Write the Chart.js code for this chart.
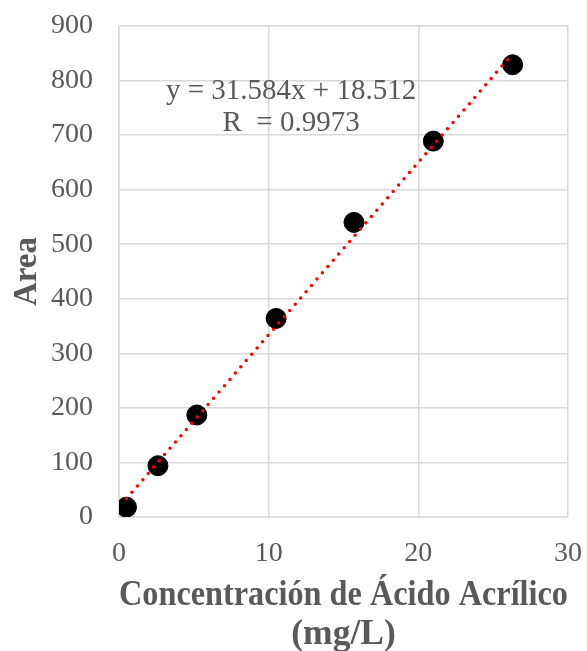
<!DOCTYPE html>
<html>
<head>
<meta charset="utf-8">
<script src="https://cdn.jsdelivr.net/npm/chart.js@4"></script>
<style>
  html, body { margin: 0; padding: 0; background: #fff; }
  canvas { display: block; }
</style>
</head>
<body>
<canvas id="curveChart" width="587" height="651"></canvas>
<script>
// concentration (mg/L) and peak area
const concentrations = [0.5, 2.6, 5.2, 10.5, 15.7, 21.0, 26.3];
const areas = [18, 94, 187, 364, 540, 689, 829];

// ends of the red dotted trendline as they appear
const trendX = [0.5, 26.3];
const trendY = [34, 849];

const equationLines = ['y = 31.584x + 18.512', 'R  = 0.9973'];
const xTitle = ['Concentración de Ácido Acrílico', '(mg/L)'];
const yTitle = 'Area';

const grey = '#595959';
const gridGrey = '#d9d9d9';
const serif = '"Liberation Serif", "Times New Roman", serif';

const equationLabel = {
    id: 'equationLabel',
    afterDatasetsDraw(chart) {
        const ctx = chart.ctx;
        const x = chart.scales.x.getPixelForValue(11.5);
        const y = chart.scales.y.getPixelForValue(780);
        ctx.save();
        ctx.font = '29px ' + serif;
        ctx.fillStyle = grey;
        ctx.textAlign = 'center';
        ctx.textBaseline = 'middle';
        ctx.fillText(equationLines[0], x, y);
        ctx.fillText(equationLines[1], x, y + 32);
        ctx.restore();
    }
};

function renderChart() {
    const ctx = document.getElementById('curveChart').getContext('2d');
    window.curveChart = new Chart(ctx, {
        type: 'scatter',
        data: {
            datasets: [{
                label: 'Tendencia',
                type: 'line',
                data: trendX.map((x, i) => ({ x: x, y: trendY[i] })),
                borderColor: '#ff0000',
                borderWidth: 3.5,
                borderDash: [0, 8.3],
                borderCapStyle: 'round',
                pointRadius: 0,
                fill: false,
                order: 0
            }, {
                label: 'Area',
                data: concentrations.map((x, i) => ({ x: x, y: areas[i] })),
                backgroundColor: '#000000',
                borderColor: '#000000',
                pointRadius: 10,
                pointHoverRadius: 10,
                order: 1
            }]
        },
        options: {
            responsive: false,
            animation: false,
            layout: { autoPadding: false, padding: { top: 26, right: 19, left: 0, bottom: 0 } },
            plugins: {
                legend: { display: false },
                tooltip: { enabled: false }
            },
            scales: {
                x: {
                    type: 'linear',
                    min: 0,
                    max: 30,
                    afterFit: function(scale) {
                        scale.height = 134;
                        scale.paddingLeft = 0;
                        scale.paddingRight = 0;
                    },
                    ticks: {
                        stepSize: 10,
                        color: grey,
                        padding: 20,
                        font: { family: serif, size: 28 }
                    },
                    grid: { color: gridGrey, lineWidth: 1.5, drawTicks: false },
                    border: { color: gridGrey, width: 1.5 },
                    title: {
                        display: true,
                        text: xTitle,
                        color: grey,
                        padding: { top: 0, bottom: -3 },
                        font: { family: serif, size: 35.5, weight: 'bold', lineHeight: 1.1 }
                    }
                },
                y: {
                    min: 0,
                    max: 900,
                    afterFit: function(scale) {
                        scale.width = 119;
                        scale.paddingTop = 0;
                        scale.paddingBottom = 0;
                    },
                    ticks: {
                        stepSize: 100,
                        color: grey,
                        padding: 26,
                        font: { family: serif, size: 28 }
                    },
                    grid: { color: gridGrey, lineWidth: 1.5, drawTicks: false },
                    border: { color: gridGrey, width: 1.5 },
                    title: {
                        display: true,
                        text: yTitle,
                        color: grey,
                        padding: { top: 8, bottom: 0 },
                        font: { family: serif, size: 33, weight: 'bold' }
                    }
                }
            }
        },
        plugins: [equationLabel]
    });
}

document.addEventListener('DOMContentLoaded', function() {
    renderChart();
});
</script>
</body>
</html>
